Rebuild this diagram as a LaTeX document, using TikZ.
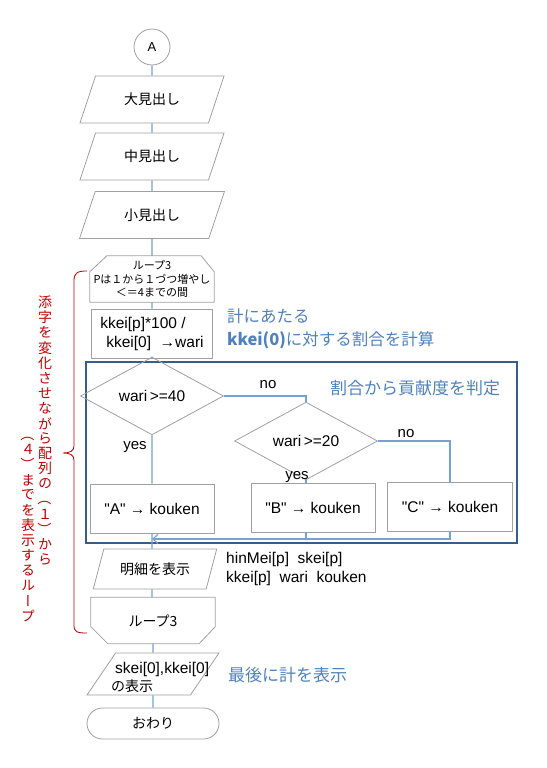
\documentclass[tikz,border=0pt]{standalone}
\usepackage{graphicx}
\usepackage{fontspec}
\setmainfont{Noto Sans CJK JP}
\newfontfamily\tatefont[RawFeature=+vert]{Noto Sans CJK JP}
\newfontfamily\latfont{Liberation Sans}
\newcommand{\vparen}[1]{\rotatebox[origin=c]{-90}{\normalfont #1}}
\usetikzlibrary{shapes.geometric,calc,arrows.meta}
\definecolor{shapegray}{RGB}{160,160,160}
\definecolor{flowblue}{RGB}{120,160,210}
\definecolor{framenavy}{RGB}{56,93,138}
\definecolor{noteblue}{RGB}{79,129,189}
\definecolor{notered}{RGB}{192,0,0}

\begin{document}
\begin{tikzpicture}[x=1pt,y=-1pt,
  shp/.style={draw=shapegray,line width=0.8pt,inner sep=0pt,font=\fontsize{14}{17}\selectfont},
  latin/.style={font=\latfont\fontsize{15.5}{19}\selectfont},
  box/.style={shp,rectangle,minimum width=#1,minimum height=49pt},
  io/.style={shp,trapezium,trapezium stretches=true,trapezium left angle=59,trapezium right angle=121,minimum width=145pt,minimum height=47pt},
  dec/.style={shp,latin,diamond,minimum width=143pt,minimum height=55pt},
  loopbox/.style={inner sep=0pt,minimum width=124pt,minimum height=46pt,align=center},
  flow/.style={draw=flowblue,line width=1.2pt},
  note/.style={text=noteblue,font=\fontsize{17}{23}\selectfont,align=left,inner sep=0pt,anchor=west},
  lab/.style={latin,inner sep=0pt},
  tate/.style={text=notered,font=\tatefont\fontsize{14}{15}\selectfont,inner sep=0pt}]
\useasboundingbox (0,0) rectangle (546,768);

% frame of the judging part
\draw[framenavy,line width=2.5pt] (86,362) rectangle (517,543);

\node[shp,circle,minimum size=36pt,font=\latfont\fontsize{13}{15}\selectfont] (start) at (152,47) {A};
\node[io] (big) at (152,99.5) {大見出し};
\node[io] (mid) at (152,156.5) {中見出し};
\node[io] (small) at (152,215) {小見出し};

% loop 3 begin
\node[loopbox,font=\fontsize{11}{13.5}\selectfont] (loopA) at (152,279) {ループ3\\Pは１から１づつ増やし\\＜＝4までの間};
\draw[shapegray,line width=0.8pt] ([yshift=-16pt]loopA.north west) -- ([xshift=17pt]loopA.north west) -- ([xshift=-13pt]loopA.north east) -- ([yshift=-16pt]loopA.north east) -- (loopA.south east) -- (loopA.south west) -- cycle;

\node[box=121pt,latin,align=left] (calc) at (152,333.5) {kkei[p]*100 /\\\hspace*{6pt}kkei[0]\ \ →wari};

% judging
\node[dec] (jA) at (152,396) {wari\,>=40};
\node[dec] (jB) at (306,441) {wari\,>=20};
\node[box=124pt,latin] (kA) at (152,508.5) {"A" → kouken};
\node[box=124pt,latin] (kB) at (313,507.5) {"B" → kouken};
\node[box=125pt,latin] (kC) at (450,506.5) {"C" → kouken};
\coordinate (mrg) at (152,539);

\node[io,trapezium left angle=61,trapezium right angle=119,minimum width=124pt,minimum height=40pt] (disp) at (155,569) {明細を表示};

% loop 3 end
\node[loopbox,font=\fontsize{14}{17}\selectfont] (loopB) at (153,620.5) {ループ3};
\draw[shapegray,line width=0.8pt] (loopB.north west) -- (loopB.north east) -- ([yshift=17pt]loopB.south east) -- ([xshift=-16pt]loopB.south east) -- ([xshift=17pt]loopB.south west) -- ([yshift=17pt]loopB.south west) -- cycle;

\node[io,trapezium left angle=63,trapezium right angle=117,minimum width=132pt,minimum height=42pt] (total) at (153,674) {\phantom{の}};
\node[inner sep=0pt,align=left,anchor=west,font=\fontsize{14}{18}\selectfont] (totaltxt) at (111,677) {\hspace*{4pt}{\latfont\fontsize{15.5}{18}\selectfont skei[0],kkei[0]}\\の表示};
\node[shp,rounded corners=15.5pt,minimum width=132pt,minimum height=31pt] (stop) at (153,723.5) {おわり};

% connectors
\draw[flow] (start.south) -- (big.north) (big.south) -- (mid.north) (mid.south) -- (small.north)
  (small.south) -- (loopA.north) (loopA.south) -- (calc.north) (calc.south) -- (jA.north)
  (jA.south) -- (kA.north) (kA.south) -- (kA.south |- disp.north);
\draw[flow] (jA.east) -| (jB.north);
\draw[flow] (jB.east) -| (kC.north);
\draw[flow] (jB.south) -- (jB.south |- kB.north);
\draw[flow] (jB.south |- kB.south) -- (jB.south |- mrg);
\draw[flow,-{Straight Barb[length=5pt,width=9pt]}] (kC.south) |- (mrg);
\draw[flow] (kA.south |- disp.south) -- (kA.south |- loopB.north) (loopB.south) -- (total.north) (total.south) -- (stop.north);

\foreach \t/\x/\y [count=\k] in {no/268/385,no/406/434,yes/135/447,yes/297/477}{\node[lab,font=\latfont\fontsize{15}{17}\selectfont] (yn\k) at (\x,\y) {\t};}

% notes
\node[note,font=\fontsize{16.5}{23}\selectfont] (noteCalc) at (227,328.5) {計にあたる\\{\bfseries kkei(0)}に対する割合を計算};
\node[note] (noteJudge) at (330,388) {割合から貢献度を判定};
\node[note] (noteTotal) at (228,675) {最後に計を表示};
\node[lab,align=left,anchor=west] (items) at (226,569) {hinMei[p]\ \ skei[p]\\kkei[p]\ \ wari\ \ kouken};

% red brace and vertical text
\draw[notered,line width=0.8pt] (87,271) .. controls (77,271) and (74,273) .. (74,281) -- (74,446)
  .. controls (74,451) and (70,453) .. (63,453) .. controls (70,453) and (74,455) .. (74,460) -- (74,625)
  .. controls (74,632) and (77,633) .. (87,633);
\foreach \c [count=\i from 0] in {添,字,を,変,化,さ,せ,な,が,ら,配,列,の,\vparen{（},１,\vparen{）},か,ら}{\node[tate] (ta\i) at (45,302.5+15.1*\i) {\c};}
\foreach \c [count=\i from 0] in {\vparen{（},４,\vparen{）},ま,で,を,表,示,す,る,ル,ー,プ}{\node[tate] (tb\i) at (28,434.5+15.1*\i) {\c};}
\end{tikzpicture}
\end{document}
